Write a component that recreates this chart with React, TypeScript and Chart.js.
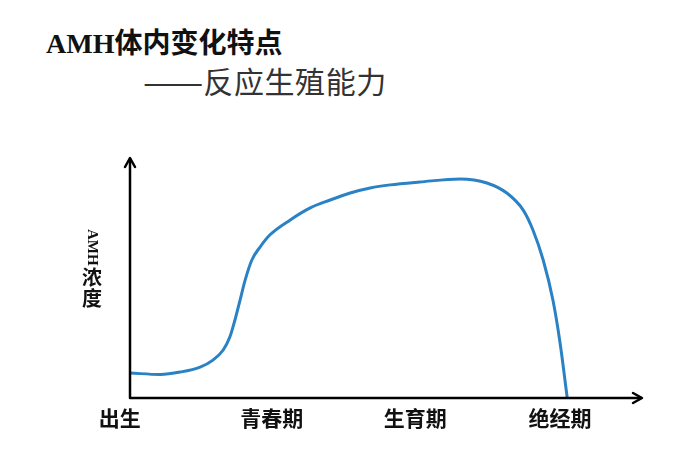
import { useEffect, useRef } from "react";
import { Chart, registerables } from "chart.js";
Chart.register(...registerables);

// curve: x = life course (0..100), y = AMH level (0..100)
const CURVE_X = [0, 5.9, 9.8, 13.7, 16.2, 18.2, 19.5, 20.5, 21.5, 22.5, 23.8, 25.4, 27.3, 31.3, 35.2, 39.1, 43.0, 46.9, 50.8, 56.6, 64.5, 69.7, 73.6, 76.8, 78.7, 80.7, 82.6, 84.0, 85.4];
const CURVE_Y = [10.4, 9.8, 10.8, 12.9, 15.8, 20.0, 25.4, 32.5, 40.8, 49.2, 57.5, 62.9, 67.9, 74.2, 79.2, 82.5, 85.4, 87.5, 88.8, 90.0, 91.3, 89.6, 85.4, 78.3, 70, 57.5, 40.8, 22.9, 0];

const STAGES = ["出生", "青春期", "生育期", "绝经期"];
const STAGE_X = [-2, 27.7, 55.7, 84];

const TITLE = "AMH体内变化特点";
const SUBTITLE_DASH = "——";
const SUBTITLE_TEXT = "反应生殖能力";
const Y_LABEL_LATIN = "AMH";
const Y_LABEL_CJK = ["浓", "度"];

const LINE_COLOR = "#2a82c4";
const CJK = '"Noto Sans CJK SC", sans-serif';

const axesPlugin = {
  id: "arrowAxes",
  afterDraw(chart: Chart) {
    const { ctx } = chart;
    const xs = chart.scales.x;
    const ys = chart.scales.y;
    const x0 = xs.getPixelForValue(0);
    const y0 = ys.getPixelForValue(0);
    const xEnd = xs.getPixelForValue(100);
    const yEnd = ys.getPixelForValue(100);
    ctx.save();
    ctx.strokeStyle = "#000";
    ctx.lineWidth = 2.5;
    ctx.lineCap = "round";
    ctx.lineJoin = "round";
    // axes
    ctx.beginPath();
    ctx.moveTo(x0, yEnd + 1);
    ctx.lineTo(x0, y0);
    ctx.lineTo(xEnd - 1, y0);
    ctx.stroke();
    // arrow heads
    ctx.beginPath();
    ctx.moveTo(x0 - 5, yEnd + 9);
    ctx.lineTo(x0, yEnd);
    ctx.lineTo(x0 + 5, yEnd + 9);
    ctx.moveTo(xEnd - 9, y0 - 5);
    ctx.lineTo(xEnd, y0);
    ctx.lineTo(xEnd - 9, y0 + 5);
    ctx.stroke();

    // stage labels
    ctx.fillStyle = "#111";
    ctx.font = `bold 21px ${CJK}`;
    ctx.textAlign = "center";
    ctx.textBaseline = "middle";
    STAGES.forEach((s, i) => {
      ctx.fillText(s, xs.getPixelForValue(STAGE_X[i]), y0 + 20);
    });

    // vertical y label: AMH turned clockwise, then upright characters
    const lx = x0 - 38;
    ctx.save();
    ctx.translate(lx, 229);
    ctx.rotate(Math.PI / 2);
    ctx.font = 'bold 15px "Liberation Serif", serif';
    ctx.textAlign = "left";
    ctx.fillText(Y_LABEL_LATIN, 0, 0);
    ctx.restore();
    ctx.font = `bold 20px ${CJK}`;
    Y_LABEL_CJK.forEach((c, i) => {
      ctx.fillText(c, lx, 277 + i * 21);
    });
    ctx.restore();
  },
};

export default function App() {
  const canvasRef = useRef<HTMLCanvasElement>(null);

  useEffect(() => {
    if (!canvasRef.current) return;
    const chart = new Chart(canvasRef.current, {
      type: "line",
      data: {
        datasets: [{
          data: CURVE_X.map((x, i) => ({ x, y: CURVE_Y[i] })),
          borderColor: LINE_COLOR,
          borderWidth: 3,
          pointRadius: 0,
          cubicInterpolationMode: "monotone",
          fill: false,
          clip: false,
        }],
      },
      options: {
        animation: false,
        responsive: true,
        maintainAspectRatio: false,
        layout: { padding: { left: 130, right: 54, top: 158, bottom: 55 } },
        plugins: { legend: { display: false }, tooltip: { enabled: false } },
        scales: {
          x: { type: "linear", min: 0, max: 100, display: false },
          y: { min: 0, max: 100, display: false },
        },
      },
      plugins: [axesPlugin],
    });
    return () => chart.destroy();
  }, []);

  return (
    <div style={{ position: "fixed", left: 0, top: 0, width: 696, height: 453, background: "#fff" }}>
      <div style={{ position: "absolute", left: 46, top: 27, fontSize: 28, fontWeight: "bold", color: "#111", fontFamily: `"Liberation Serif", ${CJK}`, whiteSpace: "nowrap", lineHeight: "34px" }}>
        {TITLE}
      </div>
      <div style={{ position: "absolute", left: 143, top: 62, fontSize: 30, color: "#333", fontFamily: CJK, whiteSpace: "nowrap", lineHeight: "36px" }}>
        <span style={{ display: "inline-block", transform: "scaleX(1.2)", transformOrigin: "left", marginRight: 10 }}>{SUBTITLE_DASH}</span>
        <span style={{ letterSpacing: 0.6 }}>{SUBTITLE_TEXT}</span>
      </div>
      <canvas ref={canvasRef} style={{ position: "absolute", left: 0, top: 0 }} />
    </div>
  );
}
